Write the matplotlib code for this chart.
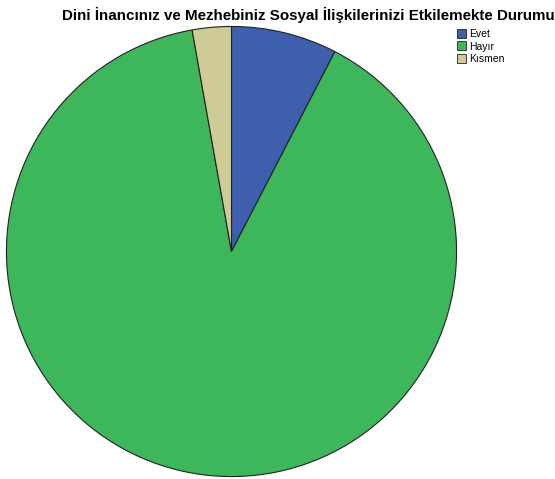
import matplotlib.pyplot as plt
from matplotlib.patches import Patch

labels = ["Evet", "Hayır", "Kısmen"]
values = [7.6, 89.6, 2.8]
colors = ["#3e5fad", "#3eb75c", "#cfcb96"]

fig = plt.figure(figsize=(5.55, 4.79), dpi=100)
ax = fig.add_axes([6/555, 2/479, 451/555, 451/479])
ax.pie(values, colors=colors, startangle=90, counterclock=False, radius=1,
       wedgeprops=dict(edgecolor="#222222", linewidth=0.8))
ax.set_xlim(-1.002, 1.002)
ax.set_ylim(-1.002, 1.002)
ax.set_aspect("equal")
ax.axis("off")

fig.text(0.556, 0.985, "Dini İnancınız ve Mezhebiniz Sosyal İlişkilerinizi Etkilemekte Durumu",
         ha="center", va="top", fontsize=10.9, fontweight="bold", family="Liberation Sans")

handles = [Patch(facecolor=c, edgecolor="#222222", linewidth=0.6) for c in colors]
fig.legend(handles, labels, loc="upper left", bbox_to_anchor=(450/555, 1 - 22/479),
           frameon=False, prop={"family": "Liberation Sans", "size": 7.5},
           handlelength=0.85, handleheight=0.95, handletextpad=0.25, labelspacing=0.2,
           borderpad=0.2)

fig.savefig("out.png", dpi=100)
